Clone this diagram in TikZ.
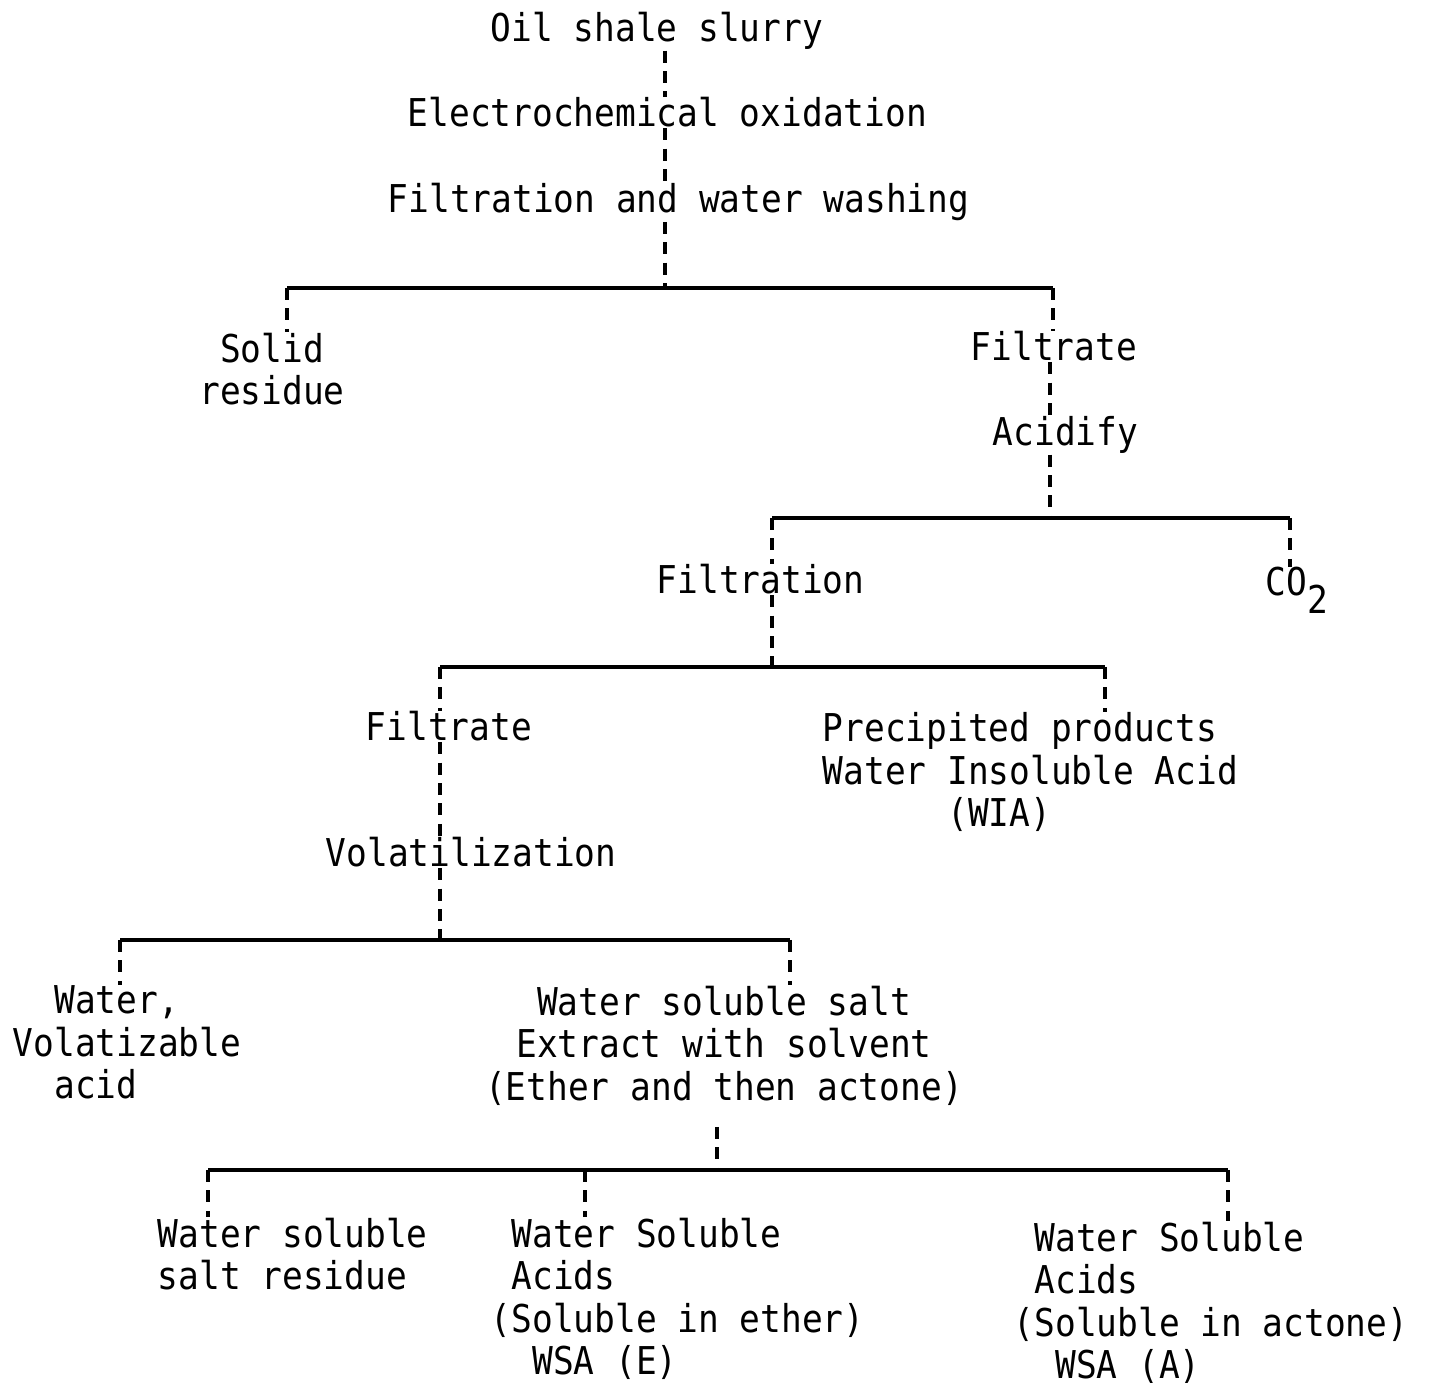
\documentclass[tikz,border=0pt]{standalone}
\usepackage{fontspec}
\setmonofont[FakeStretch=0.90]{DejaVu Sans Mono}
\usetikzlibrary{positioning}

\begin{document}
\begin{tikzpicture}[x=0.01cm, y=-0.01cm,
    txt/.style={inner sep=0pt, font=\ttfamily\fontsize{10.9}{12.1}\selectfont},
    bar/.style={line width=0.9pt},
    link/.style={line width=1.1pt, dash pattern=on 3.4pt off 2.4pt}]
    \useasboundingbox (0,0) rectangle (1429,1383);

    % process steps
    \node[txt, anchor=base west] (oil) at (490,42) {Oil shale slurry};
    \node[txt, anchor=base west] (oxid) at (407,127) {Electrochemical oxidation};
    \node[txt, anchor=base west] (wash) at (387,213) {Filtration and water washing};
    \node[txt, anchor=north, align=center] (solid) at (272,332) {Solid\\residue};
    \node[txt, anchor=base west] (filtA) at (970,361) {Filtrate};
    \node[txt, anchor=base west] (acid) at (992,446) {Acidify};
    \node[txt, anchor=base west] (filtr) at (656,594) {Filtration};
    \node[txt, anchor=base west] (co2) at (1265,596) {CO\raisebox{-0.45em}{2}};
    \node[txt, anchor=base west] (filtB) at (365,741) {Filtrate};
    \node[txt, anchor=north west, align=left] (precip) at (822,712)
        {Precipited products\\Water Insoluble Acid\\\hphantom{000000}(WIA)};
    \node[txt, anchor=base west] (volat) at (325,867) {Volatilization};
    \node[txt, anchor=north west, align=left] (water) at (12,985)
        {\hphantom{00}Water,\\Volatizable\\\hphantom{00}acid};
    \node[txt, anchor=north, align=center] (salt) at (724,985)
        {Water soluble salt\\Extract with solvent\\(Ether and then actone)};
    \node[txt, anchor=north west, align=left] (wssr) at (157,1217)
        {Water soluble\\salt residue};
    \node[txt, anchor=north west, align=left] (wsae) at (490,1217)
        {\hphantom{0}Water Soluble\\\hphantom{0}Acids\\(Soluble in ether)\\\hphantom{00}WSA (E)};
    \node[txt, anchor=north west, align=left] (wsaa) at (1013,1221)
        {\hphantom{0}Water Soluble\\\hphantom{0}Acids\\(Soluble in actone)\\\hphantom{00}WSA (A)};

    % split points
    \coordinate (j1) at (665,288);
    \coordinate (b1l) at (287,288);
    \coordinate (b1r) at (1053,288);
    \coordinate (j2) at (1050,518);
    \coordinate (b2l) at (772,518);
    \coordinate (b2r) at (1290,518);
    \coordinate (j3) at (772,667);
    \coordinate (b3l) at (440,667);
    \coordinate (b3r) at (1105,667);
    \coordinate (j4) at (440,940);
    \coordinate (b4l) at (120,940);
    \coordinate (b4r) at (790,940);
    \coordinate (j5) at (717,1170);
    \coordinate (b5l) at (208,1170);
    \coordinate (b5m) at (585,1170);
    \coordinate (b5r) at (1228,1170);

    % trunk
    \draw[link] (oil.south -| j1) -- (oxid.north -| j1);
    \draw[link] (oxid.south -| j1) -- (wash.north -| j1);
    \draw[link] (wash.south -| j1) -- (j1);
    \draw[bar] (b1l) -- (b1r);
    \draw[link] (b1l) -- (solid.north -| b1l);
    \draw[link] (b1r) -- (filtA.north -| b1r);
    \draw[link] (filtA.south -| j2) -- (acid.north -| j2);
    \draw[link] (acid.south -| j2) -- (j2);

    % acidified filtrate
    \draw[bar] (b2l) -- (b2r);
    \draw[link] (b2l) -- (filtr.north -| b2l);
    \draw[link] (b2r) -- (co2.north -| b2r);
    \draw[link] (filtr.south -| j3) -- (j3);
    \draw[bar] (b3l) -- (b3r);
    \draw[link] (b3l) -- (filtB.north -| b3l);
    \draw[link] (b3r) -- (precip.north -| b3r);
    \draw[link] (filtB.south -| j4) -- (volat.north -| j4);
    \draw[link] (volat.south -| j4) -- (j4);

    % volatilization products
    \draw[bar] (b4l) -- (b4r);
    \draw[link] (b4l) -- (water.north -| b4l);
    \draw[link] (b4r) -- (salt.north -| b4r);
    \draw[link] ([yshift=-6pt]salt.south -| j5) -- (j5);
    \draw[bar] (b5l) -- (b5r);
    \draw[link] (b5l) -- (wssr.north -| b5l);
    \draw[link] (b5m) -- (wsae.north -| b5m);
    \draw[link] (b5r) -- (wsaa.north -| b5r);
\end{tikzpicture}
\end{document}
